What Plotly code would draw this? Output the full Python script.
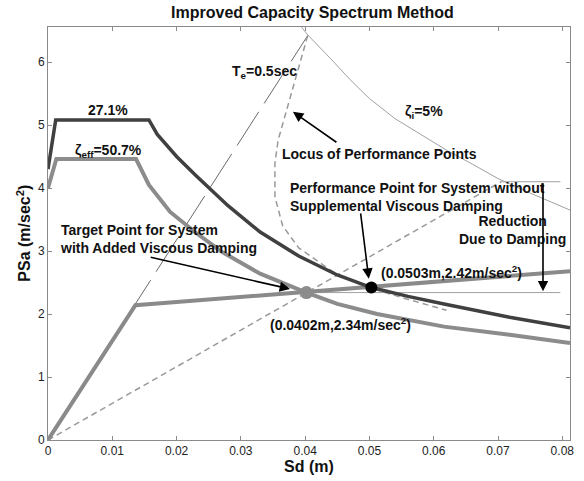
import plotly.graph_objects as go

# ---------------- data ----------------
cap_sd = [0.0, 0.0136, 0.020, 0.030, 0.0402, 0.0503, 0.060, 0.070, 0.0812]
cap_sa = [0.0, 2.14, 2.19, 2.27, 2.34, 2.42, 2.50, 2.58, 2.68]

d27_sd = [0.0, 0.0012, 0.0157, 0.0170, 0.0200, 0.0230, 0.0280, 0.0330, 0.0390, 0.0450, 0.0503, 0.0560, 0.0616, 0.0718, 0.0812]
d27_sa = [4.30, 5.08, 5.08, 4.85, 4.50, 4.20, 3.72, 3.30, 2.92, 2.62, 2.42, 2.28, 2.16, 1.95, 1.78]

d50_sd = [0.0, 0.0013, 0.0137, 0.0157, 0.0190, 0.0230, 0.0270, 0.0330, 0.0402, 0.0450, 0.0512, 0.0590, 0.0616, 0.0718, 0.0812]
d50_sa = [4.00, 4.46, 4.46, 4.05, 3.62, 3.29, 2.99, 2.64, 2.34, 2.16, 2.00, 1.86, 1.80, 1.67, 1.54]

zi_sd = [0.0394, 0.0404, 0.0440, 0.0470, 0.0500, 0.0540, 0.0580, 0.0620, 0.0660, 0.0700, 0.0750, 0.0812]
zi_sa = [6.56, 6.43, 6.05, 5.72, 5.42, 5.10, 4.85, 4.60, 4.38, 4.15, 3.92, 3.65]

te_sd = [0.0, 0.0404]
te_sa = [0.0, 6.42]

locus_sd = [0.0404, 0.0384, 0.0370, 0.0358, 0.0353, 0.0353, 0.0365, 0.0390, 0.0425, 0.0451, 0.0502, 0.0554, 0.0620]
locus_sa = [6.42, 5.71, 5.19, 4.76, 4.40, 3.86, 3.40, 3.05, 2.80, 2.62, 2.41, 2.25, 2.06]

sec_sd = [0.0, 0.0705]
sec_sa = [0.0, 4.10]

hi_sd = [0.0705, 0.0797]
hi_sa = [4.10, 4.10]
lo_sd = [0.0402, 0.0797]
lo_sa = [2.34, 2.34]

pp_sd, pp_sa = 0.0503, 2.42
tp_sd, tp_sa = 0.0402, 2.34

FONT = "Arial, Liberation Sans, sans-serif"

fig = go.Figure()

def line(x, y, color, width, dash="solid"):
    fig.add_trace(go.Scatter(x=x, y=y, mode="lines",
                             line=dict(color=color, width=width, dash=dash),
                             hoverinfo="skip"))

line(te_sd, te_sa, "#6a6a6a", 1, "40px,10px")
line(zi_sd, zi_sa, "#a0a0a0", 1)
line(sec_sd, sec_sa, "#9a9a9a", 1.5, "6px,4px")
line(locus_sd, locus_sa, "#9a9a9a", 1.5, "6px,4px")
line(hi_sd, hi_sa, "#a0a0a0", 1)
line(lo_sd, lo_sa, "#a0a0a0", 1)
line(cap_sd, cap_sa, "#8a8a8a", 4)
line(d50_sd, d50_sa, "#8c8c8c", 4)
line(d27_sd, d27_sa, "#404040", 3.5)

fig.add_trace(go.Scatter(x=[tp_sd], y=[tp_sa], mode="markers",
                         marker=dict(color="#8c8c8c", size=13), hoverinfo="skip"))
fig.add_trace(go.Scatter(x=[pp_sd], y=[pp_sa], mode="markers",
                         marker=dict(color="#000000", size=12), hoverinfo="skip"))

anns = []
def txt(x, y, t, xanchor="center", align="left", size=14):
    anns.append(dict(x=x, y=y, text=t, showarrow=False, xanchor=xanchor,
                     yanchor="middle", align=align,
                     font=dict(family=FONT, size=size, color="#111111")))

def arrow(x, y, ax, ay):
    anns.append(dict(x=x, y=y, ax=ax, ay=ay, axref="x", ayref="y", text="",
                     showarrow=True, arrowhead=2, arrowsize=1.3, arrowwidth=1.6,
                     arrowcolor="#000000"))

txt(0.03364, 5.84, "<b>T<sub>e</sub>=0.5sec</b>")
txt(0.0585, 5.21, "<b>ζ<sub>i</sub>=5%</b>")
txt(0.00926, 5.24, "<b>27.1%</b>")
txt(0.0094, 4.59, "<b>ζ<sub>eff</sub>=50.7%</b>")
txt(0.0361, 4.54, "<b>Locus of Performance Points</b>", xanchor="left")
txt(0.03735, 3.865, "<b>Performance Point for System without<br>Supplemental Viscous Damping</b>", xanchor="left")
txt(0.0722, 3.34, "<b>Reduction<br>Due to Damping</b>", align="center")
txt(0.00154, 3.19, "<b>Target Point for System<br>with Added Viscous Damping</b>", xanchor="left")
txt(0.0627, 2.67, "<b>(0.0503m,2.42m/sec<sup>2</sup>)</b>")
txt(0.04554, 1.84, "<b>(0.0402m,2.34m/sec<sup>2</sup>)</b>")

arrow(0.0381, 5.21, 0.0451, 4.71)
arrow(0.0499, 2.56, 0.0486, 3.62)
arrow(0.03765, 2.397, 0.01574, 2.905)
arrow(0.0770, 2.36, 0.0770, 4.10)

# axis titles
anns.append(dict(x=0.5, y=-0.065, xref="paper", yref="paper", text="<b>Sd (m)</b>",
                 showarrow=False, xanchor="center", yanchor="middle",
                 font=dict(family=FONT, size=16, color="#111111")))
anns.append(dict(x=-0.0475, y=0.5, xref="paper", yref="paper",
                 text="<b>PSa (m/sec<sup>2</sup>)</b>", textangle=-90,
                 showarrow=False, xanchor="center", yanchor="middle",
                 font=dict(family=FONT, size=16, color="#111111")))

axis_common = dict(showgrid=False, zeroline=False, showline=True, linecolor="#8a8a8a",
                   linewidth=1, mirror="ticks", ticks="inside", ticklen=4,
                   tickcolor="#8a8a8a",
                   tickfont=dict(family=FONT, size=12, color="#222222"))

fig.update_layout(
    width=584, height=481,
    margin=dict(l=48, r=10, t=27, b=41),
    paper_bgcolor="white", plot_bgcolor="white",
    showlegend=False,
    title=dict(text="<b>Improved Capacity Spectrum Method</b>", x=0.535, xanchor="center",
               y=1 - 12 / 481, yanchor="middle", yref="container",
               font=dict(family=FONT, size=16, color="#111111")),
    xaxis=dict(range=[0, 0.0812], tickvals=[0, 0.01, 0.02, 0.03, 0.04, 0.05, 0.06, 0.07, 0.08],
               ticktext=["0", "0.01", "0.02", "0.03", "0.04", "0.05", "0.06", "0.07", "0.08"],
               **axis_common),
    yaxis=dict(range=[0, 6.556], tickvals=[0, 1, 2, 3, 4, 5, 6], **axis_common),
    annotations=anns,
)

fig.write_html("out.html")
